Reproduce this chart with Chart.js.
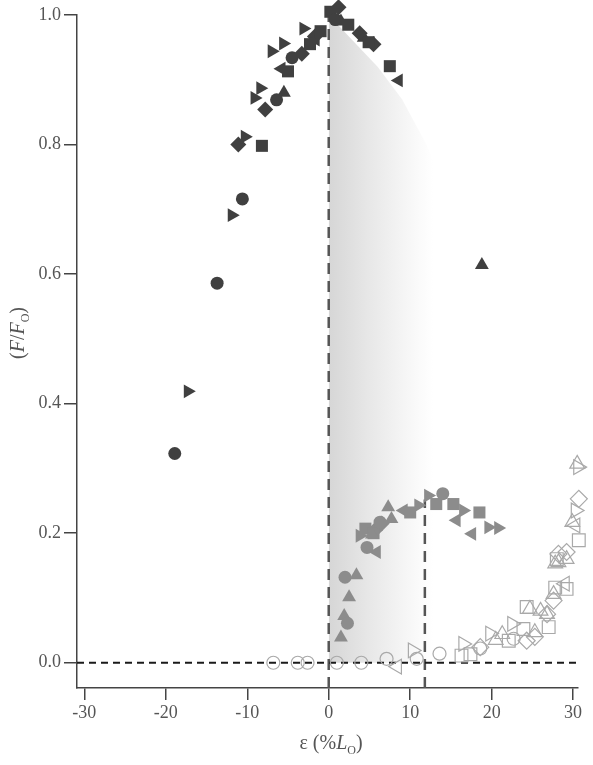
<!DOCTYPE html>
<html>
<head>
<meta charset="utf-8">
<script src="https://cdn.jsdelivr.net/npm/chart.js@4"></script>
<style>
html,body{margin:0;padding:0;background:#fff;}
canvas{display:block;}
</style>
</head>
<body>
<canvas id="c" width="593" height="765"></canvas>
<script>
// ---- tick labels ----
const xTicks = [-30, -20, -10, 0, 10, 20, 30];
const yTicks = [0.0, 0.2, 0.4, 0.6, 0.8, 1.0];

// ---- dark (filled) series: [strain %, F/Fo] ----
const darkCircle = [[-18.9,0.323],[-13.7,0.586],[-10.6,0.716],[-6.4,0.869],[-4.5,0.934],[0.8,0.993]];
const darkSquare = [[-8.2,0.798],[-5.0,0.913],[-2.3,0.955],[-1.0,0.975],[0.2,1.005],[2.4,0.985],[4.9,0.958],[7.5,0.921]];
const darkTriUp = [[-5.5,0.880],[1.5,0.99],[4.3,0.965],[18.8,0.614]];
const darkTriRight = [[-17.3,0.419],[-11.9,0.691],[-10.3,0.812],[-9.1,0.872],[-8.4,0.887],[-7.0,0.944],[-5.6,0.956],[-3.1,0.979]];
const darkTriLeft = [[-5.8,0.917],[-1.6,0.962],[8.6,0.899]];
const darkDiamond = [[-11.1,0.800],[-7.8,0.854],[-3.3,0.940],[-1.7,0.967],[1.2,1.012],[3.8,0.972],[5.5,0.955]];

// ---- gray (filled) series ----
const grayCircle = [[2.3,0.061],[2.0,0.132],[4.7,0.178],[6.3,0.217],[14.0,0.261]];
const grayTriUp = [[1.5,0.039],[1.9,0.072],[2.5,0.101],[3.4,0.135],[5.3,0.198],[7.3,0.240],[7.7,0.222]];
const graySquare = [[4.5,0.207],[5.5,0.200],[10.0,0.232],[13.2,0.245],[15.3,0.245],[18.5,0.232]];
const grayTriRight = [[3.8,0.196],[11.0,0.243],[12.2,0.258],[16.5,0.235],[19.6,0.209],[20.8,0.208]];
const grayTriLeft = [[5.9,0.171],[9.2,0.235],[15.7,0.220],[17.6,0.199]];
const grayDiamond = [[5.7,0.205],[6.5,0.215]];

// ---- open (hollow) series ----
const openCircle = [[-6.8,0.0],[-3.8,0.0],[-2.6,0.0],[1.0,0.0],[4.0,0.0],[7.1,0.006],[10.8,0.006],[13.6,0.014],[18.6,0.022],[22.7,0.037]];
const openTriRight = [[10.3,0.019],[16.5,0.029],[19.8,0.045],[22.5,0.060],[30.3,0.235],[30.6,0.302]];
const openTriLeft = [[8.4,-0.006],[29.0,0.122],[30.3,0.212]];
const openSquare = [[16.3,0.011],[17.4,0.013],[22.1,0.034],[23.9,0.052],[24.3,0.086],[27.0,0.055],[27.8,0.116],[29.2,0.114],[28.0,0.160],[30.7,0.189]];
const openTriUp = [[20.5,0.035],[21.3,0.044],[24.7,0.083],[25.3,0.047],[26.0,0.080],[26.8,0.075],[27.6,0.106],[27.8,0.153],[28.2,0.155],[29.2,0.160],[29.9,0.217],[30.5,0.307]];
const openDiamond = [[18.6,0.024],[24.3,0.034],[25.3,0.040],[26.8,0.075],[27.6,0.096],[28.2,0.168],[29.2,0.171],[30.7,0.253]];

// ---- shaded region (upper boundary) and reference lines ----
const shadeTop = [[0,1.0],[3,0.96],[6,0.92],[9,0.87],[12,0.80],[13,0.77]];
const zeroLine = [[-30.9,0.0],[30.5,0.0]];
const optLine = [[0,-0.039],[0,1.0]];
const peakLine = [[11.8,-0.039],[11.8,0.252]];

const DARK = '#404040', GRAY = '#8c8c8c', OPEN = '#a9a9a9';
const toXY = a => a.map(p => ({x: p[0], y: p[1]}));

function pts(data, style, color, filled, radius, rotation) {
  return {
    type: 'scatter',
    data: toXY(data),
    pointStyle: style,
    pointRotation: rotation || 0,
    pointRadius: radius,
    pointBackgroundColor: filled ? color : 'rgba(0,0,0,0)',
    pointBorderColor: color,
    pointBorderWidth: filled ? 0 : 1.2,
    showLine: false,
    clip: false,
    order: 1
  };
}
function refLine(data, color, width, dash) {
  return {
    type: 'line',
    data: toXY(data),
    borderColor: color,
    borderWidth: width,
    borderDash: dash,
    pointRadius: 0,
    tension: 0,
    fill: false,
    clip: false,
    order: 50
  };
}

const shadeDataset = {
  type: 'line',
  data: toXY(shadeTop),
  borderWidth: 0,
  borderColor: 'rgba(0,0,0,0)',
  pointRadius: 0,
  tension: 0,
  fill: 'origin',
  order: 100,
  backgroundColor: 'rgba(230,230,230,1)'
};

const datasets = [
  pts(darkCircle, 'circle', DARK, true, 6.5),
  pts(darkSquare, 'rect', DARK, true, 8.5),
  pts(darkTriUp, 'triangle', DARK, true, 8),
  pts(darkTriRight, 'triangle', DARK, true, 8, 90),
  pts(darkTriLeft, 'triangle', DARK, true, 8, -90),
  pts(darkDiamond, 'rectRot', DARK, true, 8),
  pts(grayCircle, 'circle', GRAY, true, 6.5),
  pts(grayTriUp, 'triangle', GRAY, true, 8),
  pts(graySquare, 'rect', GRAY, true, 8.5),
  pts(grayTriRight, 'triangle', GRAY, true, 8, 90),
  pts(grayTriLeft, 'triangle', GRAY, true, 8, -90),
  pts(grayDiamond, 'rectRot', GRAY, true, 8),
  pts(openCircle, 'circle', OPEN, false, 6.5),
  pts(openTriRight, 'triangle', OPEN, false, 8.5, 90),
  pts(openTriLeft, 'triangle', OPEN, false, 8.5, -90),
  pts(openSquare, 'rect', OPEN, false, 9),
  pts(openTriUp, 'triangle', OPEN, false, 8.5),
  pts(openDiamond, 'rectRot', OPEN, false, 8.5),
  refLine(zeroLine, '#1a1a1a', 2, [7, 5]),
  refLine(optLine, '#555555', 2.5, [11, 7]),
  refLine(peakLine, '#555555', 2.5, [11, 7]),
  shadeDataset
];

// gradient for the shaded region, built from the x scale after layout
const shadePlugin = {
  id: 'shadeGradient',
  afterLayout(chart) {
    const xs = chart.scales.x;
    if (!xs) return;
    const x0 = xs.getPixelForValue(0);
    const x1 = xs.getPixelForValue(12.8);
    const g = chart.ctx.createLinearGradient(x0, 0, x1, 0);
    g.addColorStop(0, 'rgb(214,214,214)');
    g.addColorStop(0.4, 'rgb(232,232,232)');
    g.addColorStop(0.85, 'rgb(250,250,250)');
    g.addColorStop(1, 'rgb(255,255,255)');
    shadeDataset.backgroundColor = g;
    const meta = chart.getDatasetMeta(chart.data.datasets.indexOf(shadeDataset));
    if (meta && meta.dataset && meta.dataset.options) meta.dataset.options.backgroundColor = g;
  },
  beforeDatasetsDraw(chart) {
    const meta = chart.getDatasetMeta(chart.data.datasets.indexOf(shadeDataset));
    if (meta && meta.dataset && meta.dataset.options) meta.dataset.options.backgroundColor = shadeDataset.backgroundColor;
  }
};

const titlePlugin = {
  id: 'titles',
  afterDraw(chart) {
    const c = chart.ctx;
    c.save();
    c.fillStyle = '#555555';
    c.textBaseline = 'alphabetic';
    // x title: ε (%L_O)
    const parts = [
      {t: 'ε (%', f: '20px "Liberation Serif"', dy: 0},
      {t: 'L', f: 'italic 20px "Liberation Serif"', dy: 0},
      {t: 'O', f: '12px "Liberation Serif"', dy: 5},
      {t: ')', f: '20px "Liberation Serif"', dy: 0}
    ];
    let w = 0;
    parts.forEach(p => { c.font = p.f; w += c.measureText(p.t).width; });
    let x = 331 - w / 2;
    const base = 749;
    parts.forEach(p => { c.font = p.f; c.fillText(p.t, x, base + p.dy); x += c.measureText(p.t).width; });
    // y title: (F/F_O)
    c.translate(18, 333);
    c.rotate(-Math.PI / 2);
    const yp = [
      {t: '(', f: '20px "Liberation Serif"', dy: 0},
      {t: 'F', f: 'italic 20px "Liberation Serif"', dy: 0},
      {t: '/', f: '20px "Liberation Serif"', dy: 0},
      {t: 'F', f: 'italic 20px "Liberation Serif"', dy: 0},
      {t: 'O', f: '12px "Liberation Serif"', dy: 5},
      {t: ')', f: '20px "Liberation Serif"', dy: 0}
    ];
    w = 0;
    yp.forEach(p => { c.font = p.f; w += c.measureText(p.t).width; });
    x = -w / 2;
    yp.forEach(p => { c.font = p.f; c.fillText(p.t, x, 6 + p.dy); x += c.measureText(p.t).width; });
    c.restore();
  }
};

const tickFont = {family: '"Liberation Serif", serif', size: 18};

new Chart(document.getElementById('c'), {
  data: {datasets},
  plugins: [shadePlugin, titlePlugin],
  options: {
    responsive: false,
    animation: false,
    devicePixelRatio: 1,
    layout: {padding: {top: 15, right: 15, left: 0, bottom: 0}},
    plugins: {legend: {display: false}, tooltip: {enabled: false}},
    scales: {
      x: {
        type: 'linear',
        min: -30.9, max: 30.6,
        afterBuildTicks: s => { s.ticks = xTicks.map(v => ({value: v})); },
        afterFit: s => { s.height = 77; },
        grid: {drawOnChartArea: false, drawTicks: true, tickLength: 12, color: '#444', lineWidth: 1.5},
        border: {display: true, color: '#444', width: 1.5},
        ticks: {font: tickFont, color: '#555', padding: 2, maxRotation: 0, callback: v => String(v)}
      },
      y: {
        type: 'linear',
        min: -0.039, max: 1.0,
        afterBuildTicks: s => { s.ticks = yTicks.map(v => ({value: v})); },
        afterFit: s => { s.width = 77; },
        grid: {drawOnChartArea: false, drawTicks: true, tickLength: 13, color: '#444', lineWidth: 1.5},
        border: {display: true, color: '#444', width: 1.5},
        ticks: {font: tickFont, color: '#555', padding: 3, callback: v => Number(v).toFixed(1)}
      }
    }
  }
});
</script>
</body>
</html>
